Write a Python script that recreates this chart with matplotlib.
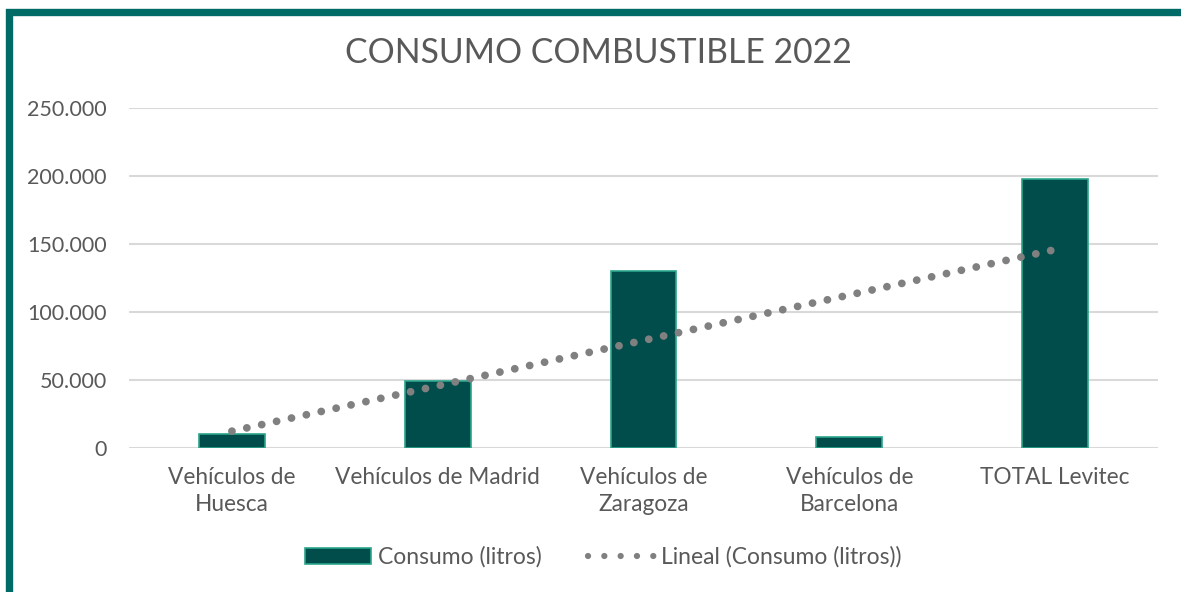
import matplotlib.pyplot as plt
import matplotlib.patches as mpatches
from matplotlib.lines import Line2D
from matplotlib.ticker import FuncFormatter
import numpy as np

plt.rcParams['font.family'] = ['Lato', 'DejaVu Sans']

categories = ['Vehículos de\nHuesca', 'Vehículos de Madrid', 'Vehículos de\nZaragoza',
              'Vehículos de\nBarcelona', 'TOTAL Levitec']
consumo = [10300, 49300, 130100, 8100, 197800]
yticks = [0, 50000, 100000, 150000, 200000, 250000]

bar_color = '#004D4B'
edge_color = '#2BA58A'
text_color = '#595959'

fig = plt.figure(figsize=(11.81, 5.92), dpi=100)
ax = fig.add_axes([129 / 1181, 1 - 448 / 592, 1029 / 1181, 340 / 592])

x = np.arange(1, len(consumo) + 1)
ax.bar(x, consumo, width=0.32, color=bar_color, edgecolor=edge_color, linewidth=1.2, zorder=3)

# linear trend line like Excel
slope, intercept = np.polyfit(x, consumo, 1)
trend = slope * x + intercept
ax.plot(x, trend, color='#808080', linewidth=5.6, linestyle=(0, (0.01, 1.95)),
        dash_capstyle='round', zorder=4)

ax.set_xlim(0.5, 5.5)
ax.set_ylim(0, 250000)
ax.set_yticks(yticks)
ax.yaxis.set_major_formatter(FuncFormatter(lambda v, p: f'{int(v):,}'.replace(',', '.')))
ax.set_xticks(x)
ax.set_xticklabels(categories, linespacing=1.3)
ax.grid(axis='y', color='#D9D9D9', linewidth=1.5, zorder=0)
for s in ax.spines.values():
    s.set_visible(False)
ax.tick_params(length=0, labelcolor=text_color)
ax.tick_params(axis='y', pad=16, labelsize=15.5)
ax.tick_params(axis='x', pad=14, labelsize=16.3)

fig.text(598 / 1181, 1 - 53 / 592, 'CONSUMO COMBUSTIBLE 2022', ha='center', va='center',
         fontsize=24.3, color=text_color)

handles = [mpatches.Patch(facecolor=bar_color, edgecolor=edge_color, linewidth=1.2),
           Line2D([0], [0], color='#808080', linewidth=4.5, linestyle=(0, (0.01, 2.6)),
                  dash_capstyle='round')]
fig.legend(handles, ['Consumo (litros)', 'Lineal (Consumo (litros))'], loc='center',
           bbox_to_anchor=(603 / 1181, 1 - 557 / 592), ncol=2, frameon=False,
           fontsize=16.5, labelcolor=text_color, handlelength=2.9, handleheight=0.7,
           handletextpad=0.3, columnspacing=2.0)

# chart frame
frame = mpatches.Rectangle((8.5 / 1181, -0.1), 1.2, 1 - 11.5 / 592 + 0.1, transform=fig.transFigure,
                           fill=False, edgecolor='#006A66', linewidth=5.3, clip_on=False)
fig.patches.append(frame)

fig.savefig('out.png', dpi=100)
